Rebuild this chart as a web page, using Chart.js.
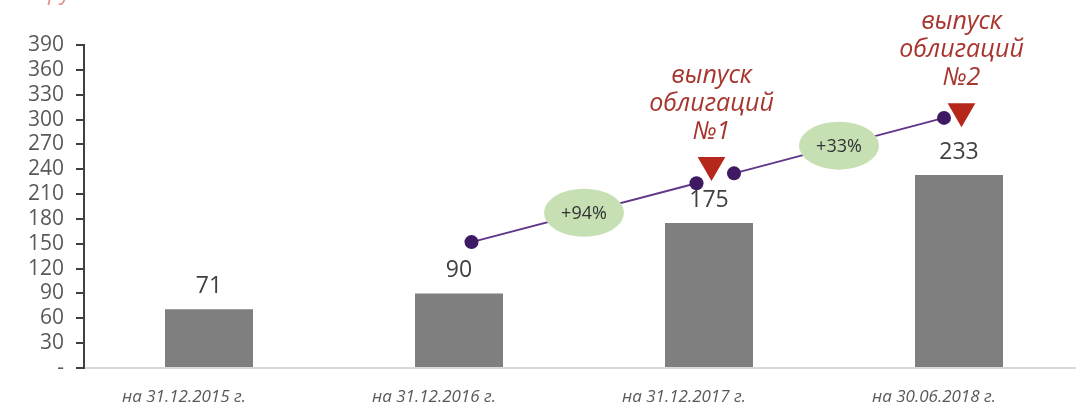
<!DOCTYPE html>
<html>
<head>
<meta charset="utf-8">
<script src="https://cdn.jsdelivr.net/npm/chart.js@4"></script>
<style>
  html, body { margin: 0; padding: 0; background: #fff; overflow: hidden; }
  #wrap { width: 1100px; height: 412px; position: relative; }
</style>
</head>
<body>
<div id="wrap"><canvas id="chart-debt"></canvas></div>
<script>
'use strict';

// bars
const dates = ['на 31.12.2015 г.', 'на 31.12.2016 г.', 'на 31.12.2017 г.', 'на 30.06.2018 г.'];
const debt = [71, 90, 175, 233];

// growth line, x is a fractional category index
const growthX = [1.05, 1.95, 2.1, 2.94];
const growthY = [152, 223, 235, 302];
const growthLabels = ['+94%', '+33%'];

// bond issue markers
const issueX = [2.01, 3.01];
const issueY = [245, 310];
const issueLabels = [['выпуск', 'облигаций', '№1'], ['выпуск', 'облигаций', '№2']];

const unitsTitle = 'млн руб.';

const textFont = "'Open Sans', sans-serif";

function segment(i) {
    return [
        {x: growthX[i], y: growthY[i]},
        {x: growthX[i + 1], y: growthY[i + 1]}
    ];
}

const lineStyle = {
    type: 'line',
    xAxisID: 'x2',
    borderColor: '#62378a',
    borderWidth: 2,
    pointRadius: 7,
    pointHoverRadius: 7,
    pointBackgroundColor: '#3d1a63',
    pointBorderWidth: 0,
    order: 2
};

const decorations = {
    id: 'decorations',
    afterDatasetsDraw(chart) {
        const ctx = chart.ctx;
        const x = chart.scales.x;
        const x2 = chart.scales.x2;
        const y = chart.scales.y;
        ctx.save();

        // value labels on bars
        ctx.fillStyle = '#404040';
        ctx.font = `23px ${textFont}`;
        ctx.textAlign = 'center';
        ctx.textBaseline = 'middle';
        debt.forEach((v, i) => {
            ctx.fillText(String(v), x.getPixelForValue(i), y.getPixelForValue(v) - 23);
        });

        // growth ellipses on segment midpoints
        growthLabels.forEach((label, k) => {
            const i = k * 2;
            const cx = x2.getPixelForValue((growthX[i] + growthX[i + 1]) / 2);
            const cy = y.getPixelForValue((growthY[i] + growthY[i + 1]) / 2);
            ctx.beginPath();
            ctx.ellipse(cx, cy, 40, 24, 0, 0, Math.PI * 2);
            ctx.fillStyle = '#c6e0b4';
            ctx.fill();
            ctx.fillStyle = '#333333';
            ctx.font = `18px ${textFont}`;
            ctx.fillText(label, cx, cy + 1);
        });

        // bond issue captions
        ctx.fillStyle = '#a8352e';
        ctx.font = `italic 25px ${textFont}`;
        issueLabels.forEach((lines, i) => {
            const px = x2.getPixelForValue(issueX[i]);
            const top = y.getPixelForValue(issueY[i]) - 8;
            lines.forEach((line, j) => {
                ctx.fillText(line, px, top - 25 - (lines.length - 1 - j) * 28);
            });
        });

        // cut-off units title
        ctx.fillStyle = '#e0918c';
        ctx.textAlign = 'left';
        ctx.textBaseline = 'alphabetic';
        ctx.font = `italic 22px ${textFont}`;
        ctx.fillText(unitsTitle, 2, 0);
        ctx.restore();
    }
};

new Chart(document.getElementById('chart-debt').getContext('2d'), {
    data: {
        labels: dates,
        datasets: [
            {
                type: 'bar',
                data: debt,
                backgroundColor: '#7f7f7f',
                grouped: false,
                barPercentage: 0.352,
                categoryPercentage: 1,
                order: 4
            },
            Object.assign({data: segment(0)}, lineStyle),
            Object.assign({data: segment(2)}, lineStyle),
            {
                type: 'scatter',
                xAxisID: 'x2',
                data: issueX.map((v, i) => ({x: v, y: issueY[i]})),
                pointStyle: 'triangle',
                rotation: 180,
                pointRadius: 16,
                pointHoverRadius: 16,
                backgroundColor: '#b5261b',
                borderWidth: 0,
                order: 1
            }
        ]
    },
    options: {
        responsive: true,
        maintainAspectRatio: false,
        animation: false,
        events: [],
        layout: {padding: {top: 45, right: 16, left: 0, bottom: 0}},
        plugins: {legend: {display: false}, tooltip: {enabled: false}},
        scales: {
            x: {
                offset: true,
                grid: {display: false, drawTicks: false},
                border: {color: '#d9d9d9', width: 2},
                ticks: {
                    color: '#595959',
                    padding: 19,
                    labelOffset: -25,
                    maxRotation: 0,
                    font: {family: textFont, style: 'italic', size: 17}
                },
                afterFit: s => { s.height = 44; }
            },
            x2: {
                type: 'linear',
                display: false,
                min: -0.5,
                max: 3.5
            },
            y: {
                min: 0,
                max: 390,
                afterFit: s => { s.width = 84; },
                grid: {
                    drawOnChartArea: false,
                    drawTicks: true,
                    tickLength: 8,
                    color: '#404040',
                    lineWidth: 2
                },
                border: {color: '#404040', width: 2},
                ticks: {
                    stepSize: 30,
                    autoSkip: false,
                    color: '#595959',
                    padding: 12,
                    font: {family: textFont, size: 21},
                    callback: v => (v === 0 ? '-' : v)
                }
            }
        }
    },
    plugins: [decorations]
});
</script>
</body>
</html>
